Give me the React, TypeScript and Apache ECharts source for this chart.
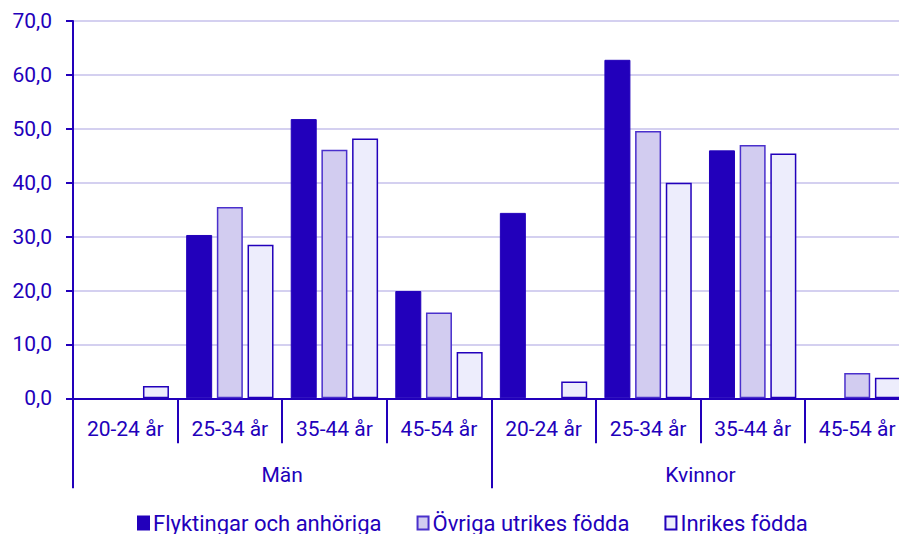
import React, { useEffect, useRef } from "react";
import * as echarts from "echarts";

const categories = ["20-24 år", "25-34 år", "35-44 år", "45-54 år", "20-24 år", "25-34 år", "35-44 år", "45-54 år"];
const groups = ["Män", "Kvinnor"];
const flyktingar = [null, 30.3, 51.8, 19.9, 34.4, 62.8, 46.0, null];
const ovriga = [null, 35.5, 46.1, 15.9, null, 49.6, 47.0, 4.7];
const inrikes = [2.3, 28.5, 48.2, 8.6, 3.1, 40.0, 45.4, 3.8];
const yTicks = { min: 0, max: 70, interval: 10 };

const DARK = "#2200bb";
const FONT = "Roboto";

export default function App() {
  const ref = useRef<HTMLDivElement>(null);
  useEffect(() => {
    if (!ref.current) return;
    const chart = echarts.init(ref.current, undefined, { renderer: "svg" });
    chart.setOption({
      animation: false,
      textStyle: { fontFamily: FONT },
      grid: { left: 73, right: 10.5, top: 21, bottom: 135.7 },
      legend: {
        left: 137,
        top: 512,
        padding: 0,
        icon: "rect",
        itemWidth: 11,
        itemHeight: 13,
        itemGap: 35,
        textStyle: { color: DARK, fontSize: 22, fontFamily: FONT, padding: [0, 0, 0, -1] },
        data: ["Flyktingar och anhöriga", "Övriga utrikes födda", "Inrikes födda"],
      },
      xAxis: [
        {
          type: "category",
          data: categories,
          position: "bottom",
          axisLine: { show: true, lineStyle: { color: DARK, width: 2 } },
          axisTick: { show: true, length: 45, interval: 0, lineStyle: { color: DARK, width: 2 } },
          axisLabel: { color: DARK, fontSize: 21, margin: 20, interval: 0, fontFamily: FONT },
        },
        {
          type: "category",
          data: groups,
          position: "bottom",
          axisLine: { show: false },
          axisTick: { show: true, length: 90, interval: 0, lineStyle: { color: DARK, width: 2 } },
          axisLabel: { color: DARK, fontSize: 21, margin: 66, interval: 0, fontFamily: FONT },
        },
      ],
      yAxis: {
        type: "value",
        min: yTicks.min,
        max: yTicks.max,
        interval: yTicks.interval,
        axisLine: { show: true, lineStyle: { color: DARK, width: 2 } },
        axisTick: { show: true, length: 7, lineStyle: { color: DARK, width: 2 } },
        axisLabel: {
          color: DARK,
          fontSize: 21,
          margin: 21,
          fontFamily: FONT,
          formatter: (v: number) => v.toFixed(1).replace(".", ","),
        },
        splitLine: { show: true, lineStyle: { color: "#d4d0f0", width: 2 } },
      },
      series: [
        {
          name: "Flyktingar och anhöriga",
          type: "bar",
          data: flyktingar,
          barWidth: 26,
          barGap: "18%",
          itemStyle: { color: DARK, borderColor: DARK, borderWidth: 1 },
        },
        {
          name: "Övriga utrikes födda",
          type: "bar",
          data: ovriga,
          barWidth: 26,
          barGap: "18%",
          itemStyle: { color: "#d2ccf0", borderColor: "#4a30cc", borderWidth: 1.5 },
        },
        {
          name: "Inrikes födda",
          type: "bar",
          data: inrikes,
          barWidth: 26,
          barGap: "18%",
          itemStyle: { color: "#ededfc", borderColor: DARK, borderWidth: 1.5 },
        },
      ],
    });
    return () => chart.dispose();
  }, []);
  return (
    <div style={{ position: "fixed", left: 0, top: 0, width: 899, height: 534, overflow: "hidden", background: "#fff" }}>
      <div ref={ref} style={{ width: 920, height: 534 }} />
    </div>
  );
}
